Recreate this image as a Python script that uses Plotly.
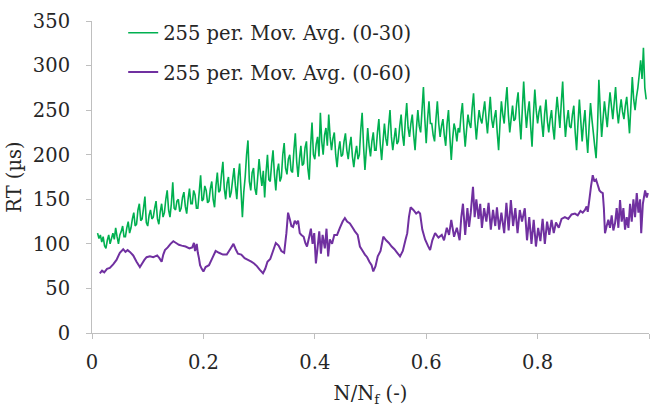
import numpy as np
import plotly.graph_objects as go

# ---- data ----
series_names = ["255 per. Mov. Avg. (0-30)", "255 per. Mov. Avg. (0-60)"]

green_x_start, green_x_end = 0.01, 0.995
green_y = [
    112, 106, 110, 102, 108, 98, 95, 104, 110, 100, 106, 112, 105, 118, 108, 100, 110, 114, 120, 108,
    108, 118, 125, 112, 118, 128, 135, 120, 122, 138, 145, 126, 128, 140, 153, 124, 120, 132, 138, 128,
    130, 140, 148, 128, 122, 136, 145, 130, 135, 150, 160, 138, 130, 145, 169, 140, 138, 148, 150, 136,
    140, 152, 158, 142, 134, 150, 162, 145, 145, 160, 155, 140, 140, 158, 177, 148, 150, 165, 160, 146,
    148, 162, 170, 150, 141, 165, 180, 158, 160, 178, 192, 162, 150, 168, 175, 152, 158, 172, 185, 165,
    150, 175, 190, 160, 130, 158, 175, 200, 216, 170, 160, 180, 185, 162, 155, 175, 195, 178, 165, 182,
    152, 180, 200, 172, 170, 190, 205, 178, 160, 182, 190, 170, 175, 200, 213, 185, 178, 195, 200, 182,
    180, 205, 224, 192, 175, 195, 210, 188, 190, 208, 215, 185, 172, 210, 236, 200, 195, 212, 220, 198,
    247, 215, 200, 222, 230, 210, 245, 220, 205, 218, 225, 200, 186, 205, 215, 198, 200, 215, 224, 205,
    195, 210, 220, 198, 186, 200, 210, 195, 200, 228, 247, 210, 183, 205, 230, 210, 198, 215, 225, 205,
    205, 225, 240, 212, 194, 215, 235, 218, 210, 232, 250, 220, 205, 218, 230, 212, 215, 232, 245, 222,
    210, 238, 258, 230, 220, 235, 245, 222, 205, 230, 250, 232, 225, 250, 276, 240, 213, 240, 260, 235,
    235, 222, 215, 240, 260, 235, 220, 232, 240, 222, 210, 235, 250, 220, 194, 218, 235, 228, 215, 230,
    225, 245, 258, 230, 209, 228, 245, 235, 230, 252, 269, 238, 217, 235, 250, 240, 235, 248, 260, 240,
    224, 245, 265, 240, 230, 242, 250, 225, 205, 235, 260, 245, 235, 258, 276, 245, 225, 240, 255, 238,
    240, 258, 270, 240, 217, 250, 282, 252, 230, 248, 260, 232, 209, 245, 273, 250, 235, 248, 255, 236,
    220, 245, 262, 238, 225, 240, 250, 230, 217, 245, 265, 248, 230, 258, 282, 245, 220, 238, 250, 232,
    230, 245, 255, 225, 205, 235, 262, 238, 215, 235, 250, 222, 202, 232, 258, 240, 225, 210, 196, 230,
    284, 250, 220, 240, 260, 245, 231, 252, 270, 255, 240, 258, 276, 250, 235, 250, 262, 248, 240, 255,
    265, 245, 224, 255, 287, 262, 250, 265, 275, 290, 306, 285, 320, 275, 262,
]
green_x = list(np.linspace(green_x_start, green_x_end, len(green_y)))

purple_x = [
    0.014, 0.018, 0.022, 0.027, 0.032, 0.038, 0.044, 0.050, 0.056, 0.060,
    0.064, 0.068, 0.074, 0.080, 0.086, 0.090, 0.094, 0.098, 0.104, 0.110,
    0.117, 0.121, 0.125, 0.128, 0.131, 0.136, 0.141, 0.146, 0.151, 0.156,
    0.161, 0.168, 0.175, 0.180, 0.183, 0.185, 0.188, 0.190, 0.192, 0.194,
    0.197, 0.200, 0.204, 0.210, 0.216, 0.222, 0.228, 0.235, 0.242, 0.248,
    0.254, 0.258, 0.262, 0.268, 0.274, 0.280, 0.286, 0.291, 0.296, 0.301,
    0.307, 0.311, 0.315, 0.320, 0.325, 0.330, 0.335, 0.340, 0.345, 0.349,
    0.352, 0.355, 0.358, 0.361, 0.364, 0.367, 0.370, 0.373, 0.376, 0.380,
    0.383, 0.386, 0.390, 0.393, 0.396, 0.399, 0.402, 0.405, 0.408, 0.411,
    0.414, 0.418, 0.421, 0.424, 0.427, 0.431, 0.435, 0.440, 0.445, 0.450,
    0.454, 0.458, 0.463, 0.468, 0.472, 0.477, 0.481, 0.486, 0.490, 0.494,
    0.498, 0.502, 0.505, 0.509, 0.513, 0.518, 0.523, 0.528, 0.533, 0.538,
    0.543, 0.548, 0.553, 0.558, 0.563, 0.566, 0.569, 0.572, 0.577, 0.582,
    0.586, 0.589, 0.593, 0.598, 0.603, 0.607, 0.611, 0.616, 0.622, 0.628,
    0.632, 0.637, 0.641, 0.645, 0.650, 0.655, 0.660, 0.663, 0.666, 0.670,
    0.674, 0.677, 0.680, 0.684, 0.687, 0.690, 0.694, 0.697, 0.700, 0.704,
    0.708, 0.712, 0.716, 0.720, 0.724, 0.727, 0.731, 0.735, 0.740, 0.744,
    0.748, 0.752, 0.756, 0.760, 0.764, 0.768, 0.772, 0.777, 0.781, 0.785,
    0.789, 0.793, 0.797, 0.801, 0.805, 0.809, 0.813, 0.817, 0.821, 0.825,
    0.829, 0.833, 0.838, 0.843, 0.849, 0.855, 0.861, 0.867, 0.872, 0.877,
    0.881, 0.885, 0.888, 0.890, 0.893, 0.896, 0.899, 0.902, 0.905, 0.908,
    0.911, 0.914, 0.917, 0.919, 0.921, 0.924, 0.927, 0.930, 0.933, 0.936,
    0.939, 0.942, 0.945, 0.948, 0.951, 0.954, 0.957, 0.960, 0.963, 0.966,
    0.969, 0.972, 0.975, 0.978, 0.981, 0.984, 0.986, 0.989, 0.993, 0.996,
    0.998,
]
purple_y = [
    67, 70, 68, 72, 73, 77, 82, 90, 94, 91,
    93, 91, 87, 80, 74, 78, 82, 85, 86, 85,
    87, 84, 80, 88, 93, 96, 100, 103, 101, 99,
    98, 97, 95, 96, 101, 92, 100, 90, 84, 76,
    72, 69, 74, 76, 84, 92, 90, 88, 88, 94,
    100, 94, 89, 88, 84, 82, 80, 78, 75, 71,
    67, 72, 80, 83, 92, 101, 98, 92, 90, 112,
    135, 128, 120, 119, 126, 123, 126, 112, 110, 108,
    101, 97, 108, 117, 100, 112, 78, 96, 114, 89,
    110, 95, 117, 86, 105, 100, 110, 110, 118, 125,
    129, 125, 123, 118, 114, 110, 97, 92, 88, 85,
    80, 76, 69, 75, 86, 92, 108, 104, 101, 97,
    94, 90, 86, 92, 105, 112, 130, 141, 138, 134,
    136, 134, 116, 105, 98, 93, 104, 112, 107, 110,
    104, 118, 110, 127, 108, 118, 104, 130, 145, 110,
    140, 119, 135, 164, 130, 150, 128, 145, 118, 140,
    125, 146, 116, 138, 120, 141, 116, 135, 112, 146,
    115, 149, 120, 140, 112, 138, 125, 140, 104, 130,
    100, 127, 97, 118, 103, 128, 100, 125, 110, 127,
    112, 124, 118, 128, 130, 128, 133, 134, 132, 137,
    135, 138, 142, 136, 150, 165, 177, 170, 172, 166,
    160, 158, 157, 140, 112, 120, 127, 118, 132, 115,
    123, 140, 118, 149, 125, 140, 116, 130, 118, 145,
    125, 150, 130, 157, 135, 150, 112, 145, 160, 152,
    157,
]

x_ticks = [0, 0.2, 0.4, 0.6, 0.8, 1]
y_ticks = [0, 50, 100, 150, 200, 250, 300, 350]

colors = ["#00b050", "#7030a0"]
FONT = "DejaVu Serif"
FS = 19.5
TXT = "#262626"
AXC = "#bfbfbf"

fig = go.Figure()
fig.add_trace(go.Scatter(x=green_x, y=green_y, mode="lines", name=series_names[0],
                         legendgroup="a",
                         line=dict(color=colors[0], width=1.6, simplify=False)))
fig.add_trace(go.Scatter(x=purple_x, y=purple_y, mode="lines", name=series_names[1],
                         legendgroup="b",
                         line=dict(color=colors[1], width=2, simplify=False)))

fig.update_layout(
    width=654, height=412,
    margin=dict(l=92, r=5, t=21, b=79),
    paper_bgcolor="white", plot_bgcolor="white",
    font=dict(family=FONT, size=FS, color=TXT),
    showlegend=True,
    legend=dict(x=0.056, y=1.024, xanchor="left", yanchor="top",
                bgcolor="rgba(0,0,0,0)", font=dict(family=FONT, size=FS, color=TXT),
                tracegroupgap=11),
    xaxis=dict(range=[0, 1], tickvals=x_ticks, ticktext=[str(v) for v in x_ticks],
               showgrid=False, zeroline=False, showline=True, linecolor=AXC, linewidth=1,
               ticks="outside", ticklen=5, tickcolor=AXC, ticklabelstandoff=7,
               tickfont=dict(family=FONT, size=FS, color=TXT),
               title=dict(text="N/N<sub>f</sub> (-)", standoff=12,
                          font=dict(family=FONT, size=FS, color=TXT))),
    yaxis=dict(range=[0, 350], tickvals=y_ticks,
               showgrid=False, zeroline=False, showline=True, linecolor=AXC, linewidth=1,
               ticks="outside", ticklen=5, tickcolor=AXC, ticklabelstandoff=12,
               tickfont=dict(family=FONT, size=FS, color=TXT),
               title=dict(text="RT (µs)", standoff=6,
                          font=dict(family=FONT, size=FS, color=TXT))),
)

fig.write_html("out.html")
